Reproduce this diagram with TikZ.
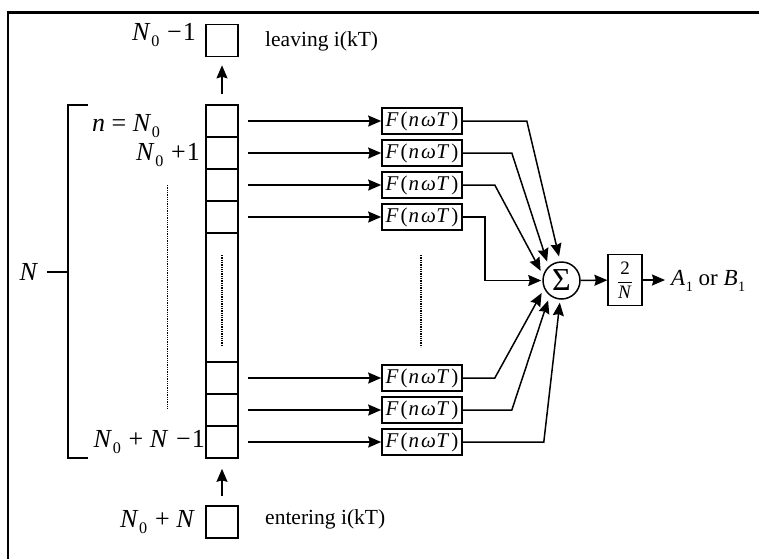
\documentclass[tikz,border=0pt]{standalone}
\usepackage{fontspec}
\setmainfont{Liberation Serif}
\usetikzlibrary{arrows.meta, positioning, calc}

\newcommand{\iv}[1]{\textit{#1}}
\newcommand{\sub}[1]{\kern0.5pt\raisebox{-0.25em}{\scalebox{0.62}{#1}}}
\newcommand{\Fnwt}{\iv{F}\kern2pt(\kern1pt\iv{n}\kern2pt\iv{ω}\kern0.5pt\iv{T}\kern2pt)}

\begin{document}
\begin{tikzpicture}[
    x=1pt, y=-1pt,
    cell/.style={draw, line width=1.6pt, minimum width=32pt, minimum height=32pt, inner sep=0pt},
    fbox/.style={draw, line width=1.6pt, minimum width=80pt, minimum height=26pt, inner sep=0pt, font=\fontsize{21}{22}\selectfont},
    sumnode/.style={draw, circle, line width=1.5pt, minimum size=37pt, inner sep=0pt, font=\fontsize{32}{32}\selectfont},
    gain/.style={draw, line width=1.2pt, minimum width=34pt, minimum height=51pt, inner sep=0pt, font=\fontsize{19}{20}\selectfont},
    lbl/.style={font=\fontsize{26}{29}\selectfont, inner sep=0pt},
    txt/.style={font=\fontsize{21.5}{24}\selectfont, inner sep=0pt},
    arr/.style={-{Stealth[length=13pt, width=11pt, inset=1.5pt]}, line width=1.5pt},
    dots/.style={densely dotted, line width=1.3pt}
]
\useasboundingbox (0,0) rectangle (759,558);
% frame
\draw[line width=2.8pt] (8,600) -- (8,12.5) -- (800,12.5);

% --- register column ---
\node[cell] (out) at (222,40.5) {};
\node[cell] (in) at (222,522) {};
\node[cell, minimum height=129pt] (rmid) at (222,297.5) {};
\foreach \i/\y in {1/121,2/153,3/185,4/217,5/378,6/410,7/442} {
  \node[cell] (r\i) at (222,\y) {};
  \node[fbox] (f\i) at (422,\y) {\Fnwt};
  \draw[arr, shorten <=9pt] (r\i) -- (f\i);
}
\draw[arr, shorten <=10pt, shorten >=8pt] (r1) -- (out);
\draw[arr, shorten <=9pt, shorten >=10pt] (in) -- (r7);

% labels of the register
\node[lbl, anchor=base east] (lout) at (196,40) {\iv{N}\sub{0}\hspace{0.3em}−\kern1pt1};
\node[txt, anchor=base west] (tout) at (265,46) {leaving i(kT)};
\node[lbl, anchor=base west] (l1) at (92,131) {\iv{n}\hspace{0.25em}=\hspace{0.25em}\iv{N}\sub{0}};
\node[lbl, anchor=base east] (l2) at (200,160) {\iv{N}\sub{0}\hspace{0.3em}+\kern1pt1};
\node[lbl, anchor=base east] (l7) at (205,447) {\iv{N}\sub{0}\hspace{0.3em}+\hspace{0.25em}\iv{N}\hspace{0.3em}−\kern1pt1};
\node[lbl, anchor=base east] (lin) at (195,527) {\iv{N}\sub{0}\hspace{0.3em}+\hspace{0.25em}\iv{N}};
\node[txt, anchor=base west] (tin) at (265,524) {entering i(kT)};

% bracket N
\draw[line width=1.5pt] (88,105) -- (68,105) -- (68,458) -- (88,458);
\draw[line width=1.5pt] (47,272) -- (68,272);
\node[lbl, anchor=base] (lN) at (29,280) {\iv{N}};

% dotted gaps
\draw[dots] (167.5,185) -- (167.5,410);
\draw[dots] (222,255) -- (222,345);
\draw[dots] (421,255) -- (421,347);

% --- summation ---
\node[sumnode] (sum) at (561.5,280.5) {Σ};
\node[gain] (g) at (625,280) {$\displaystyle\frac{\mbox{2}}{\mbox{\iv{N}}}$};
\node[lbl, font=\fontsize{23}{26}\selectfont, anchor=west] (res) at (671,281) {\iv{A}\sub{1} or \iv{B}\sub{1}};

\draw[arr, shorten >=5pt] (f1.east) -- ++(64,0) -- (sum.94);
\draw[arr, shorten >=5pt] (f2.east) -- ++(49,0) -- (sum.132);
\draw[arr, shorten >=5pt] (f3.east) -- ++(32,0) -- (sum.164);
\draw[arr, shorten >=1pt] (f4.east) -- ++(22,0) |- (sum.west);
\draw[arr, shorten >=5pt] (f5.east) -- ++(32,0) -- (sum.205);
\draw[arr, shorten >=5pt] (f6.east) -- ++(49,0) -- (sum.232);
\draw[arr, shorten >=3pt] (f7.east) -- ++(81,0) -- (sum.266);

\draw[arr] (sum) -- (g);
\draw[arr, shorten >=6pt] (g.east) -- (g.east -| res.west);
\end{tikzpicture}
\end{document}
